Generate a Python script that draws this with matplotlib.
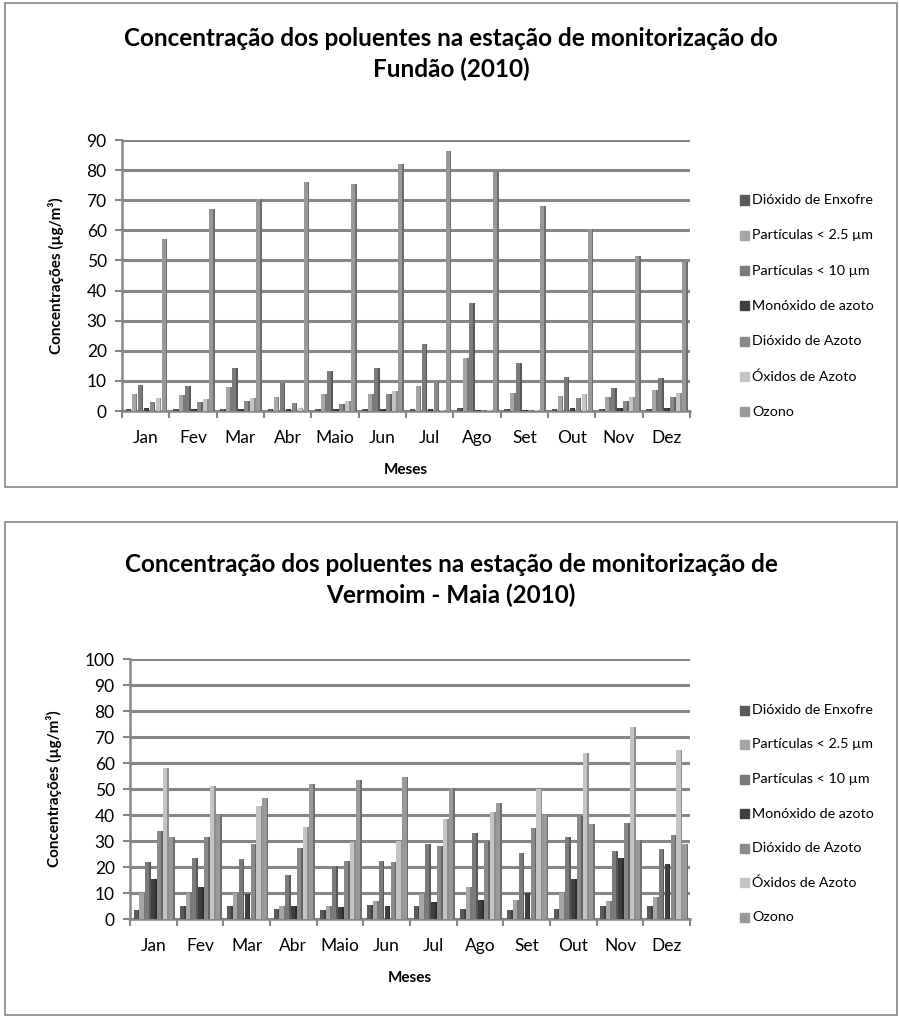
import matplotlib
matplotlib.use("Agg")
import matplotlib.pyplot as plt
from matplotlib.patches import Rectangle
import numpy as np

plt.rcParams['font.family'] = ['Lato', 'DejaVu Sans']

meses = ['Jan', 'Fev', 'Mar', 'Abr', 'Maio', 'Jun', 'Jul', 'Ago', 'Set', 'Out', 'Nov', 'Dez']
poluentes = ['Dióxido de Enxofre', 'Partículas < 2.5 µm', 'Partículas < 10 µm',
             'Monóxido de azoto', 'Dióxido de Azoto', 'Óxidos de Azoto', 'Ozono']
cores = ['#5a5a5a', '#a6a6a6', '#7b7b7b', '#3f3f3f', '#8a8a8a', '#c4c4c4', '#999999']

# Fundão (2010)
fundao_so2 = [0.5, 0.5, 0.5, 0.5, 0.5, 0.5, 0.5, 1.0, 0.5, 0.5, 0.5, 0.5]
fundao_pm25 = [5.5, 5.2, 8.0, 4.8, 5.7, 5.8, 8.2, 17.5, 6.0, 5.0, 4.5, 7.0]
fundao_pm10 = [8.5, 8.3, 14.2, 9.3, 13.3, 14.3, 22.2, 36.0, 16.0, 11.2, 7.8, 11.0]
fundao_no = [1.0, 0.8, 0.8, 0.8, 0.8, 0.8, 0.5, 0.3, 0.3, 1.0, 1.0, 1.0]
fundao_no2 = [3.0, 3.0, 3.2, 2.8, 2.2, 5.5, 9.7, 0.3, 0.3, 4.2, 3.3, 4.5]
fundao_nox = [4.3, 4.0, 4.3, 1.0, 3.2, 6.7, 0.2, 0.3, 0.3, 5.8, 4.7, 6.0]
fundao_o3 = [57.0, 67.0, 70.5, 76.0, 75.5, 82.0, 86.5, 79.5, 68.0, 60.5, 51.5, 49.5]

# Vermoim - Maia (2010)
vermoim_so2 = [3.5, 5.0, 5.0, 4.0, 3.5, 5.5, 5.0, 4.0, 3.5, 4.0, 5.0, 5.0]
vermoim_pm25 = [10.0, 10.0, 10.0, 5.0, 5.0, 7.0, 9.5, 12.5, 7.5, 10.0, 7.0, 8.5]
vermoim_pm10 = [22.0, 23.5, 23.0, 17.0, 20.5, 22.5, 29.0, 33.0, 25.5, 31.5, 26.0, 27.0]
vermoim_no = [15.5, 12.5, 9.5, 5.0, 4.5, 5.0, 6.5, 7.5, 10.0, 15.5, 23.5, 21.0]
vermoim_no2 = [34.0, 31.5, 29.0, 27.5, 22.5, 22.0, 28.0, 30.0, 35.0, 39.5, 37.0, 32.5]
vermoim_nox = [58.0, 51.0, 43.5, 35.5, 29.5, 30.0, 38.5, 41.0, 50.0, 64.0, 74.0, 65.0]
vermoim_o3 = [31.5, 40.0, 46.5, 52.0, 53.5, 54.5, 50.5, 44.5, 40.0, 36.5, 30.5, 29.0]

fundao = [fundao_so2, fundao_pm25, fundao_pm10, fundao_no, fundao_no2, fundao_nox, fundao_o3]
vermoim = [vermoim_so2, vermoim_pm25, vermoim_pm10, vermoim_no, vermoim_no2, vermoim_nox, vermoim_o3]

W, H = 899, 1019
fig = plt.figure(figsize=(W / 100, H / 100), dpi=100)
grid_c = '#868686'


def shade(hexc, f):
    c = np.array(matplotlib.colors.to_rgb(hexc))
    return tuple(np.clip(c * f, 0, 1))


def box(y0, y1):
    fig.patches.append(Rectangle((5 / W, 1 - y1 / H), 892 / W, (y1 - y0) / H,
                                 transform=fig.transFigure, fill=False,
                                 edgecolor=grid_c, lw=1.2))


def chart(series, ymax, rect, title, title_y, leg_top, leg_step):
    x0, x1, ytop, ybot = rect
    ax = fig.add_axes([x0 / W, 1 - ybot / H, (x1 - x0) / W, (ybot - ytop) / H])
    x = np.arange(len(meses))
    step = 0.127
    wf = 0.088
    ws = 0.036
    for i, vals in enumerate(series):
        pos = x + (i - 3) * step
        ax.bar(pos, vals, width=wf, color=cores[i], zorder=3, linewidth=0)
        # darker side face of each column
        ax.bar(pos + wf / 2 + ws / 2, vals, width=ws, color=shade(cores[i], 0.72),
               zorder=3, linewidth=0)
    ax.set_xlim(-0.5, len(meses) - 0.5)
    ax.set_ylim(0, ymax)
    ax.set_yticks(np.arange(0, ymax + 1, 10))
    ax.yaxis.grid(True, color=grid_c, lw=2.2, zorder=0)
    ax.set_axisbelow(True)
    for s in ['top', 'right']:
        ax.spines[s].set_visible(False)
    ax.spines['left'].set_color(grid_c)
    ax.spines['left'].set_linewidth(1.8)
    ax.spines['bottom'].set_color(grid_c)
    ax.spines['bottom'].set_linewidth(1.8)
    ax.set_xticks(x)
    ax.set_xticklabels(meses, fontsize=12.5)
    ax.set_xticks(np.arange(-0.5, len(meses)), minor=True)
    ax.tick_params(axis='x', which='major', length=0, pad=14)
    ax.tick_params(axis='x', which='minor', length=5, color=grid_c, width=1.5)
    ax.tick_params(axis='y', length=5, color=grid_c, width=1.5, labelsize=12.5, pad=6)
    ax.set_xlabel('Meses', fontsize=11, fontweight='bold', labelpad=12)
    ax.set_ylabel('Concentrações (µg/m³)', fontsize=11, fontweight='bold', labelpad=16)
    fig.text(451 / W, 1 - title_y / H, title, ha='center', va='center',
             fontsize=17.5, fontweight='bold', linespacing=1.35)
    for k, lab in enumerate(poluentes):
        yy = 1 - (leg_top + k * leg_step) / H
        fig.patches.append(Rectangle((740 / W, yy - 4.5 / H), 9 / W, 9 / H,
                                     transform=fig.transFigure, color=cores[k]))
        fig.text(752 / W, yy, lab, ha='left', va='center', fontsize=10.3)
    return ax


box(3, 487)
box(522, 1015)

chart(fundao, 90, (122, 690, 140, 411),
      'Concentração dos poluentes na estação de monitorização do\nFundão (2010)',
      54, 200, 35.3)
chart(vermoim, 100, (130, 690, 659, 919),
      'Concentração dos poluentes na estação de monitorização de\nVermoim - Maia (2010)',
      580, 710, 34.5)

fig.savefig('out.png', dpi=100)
